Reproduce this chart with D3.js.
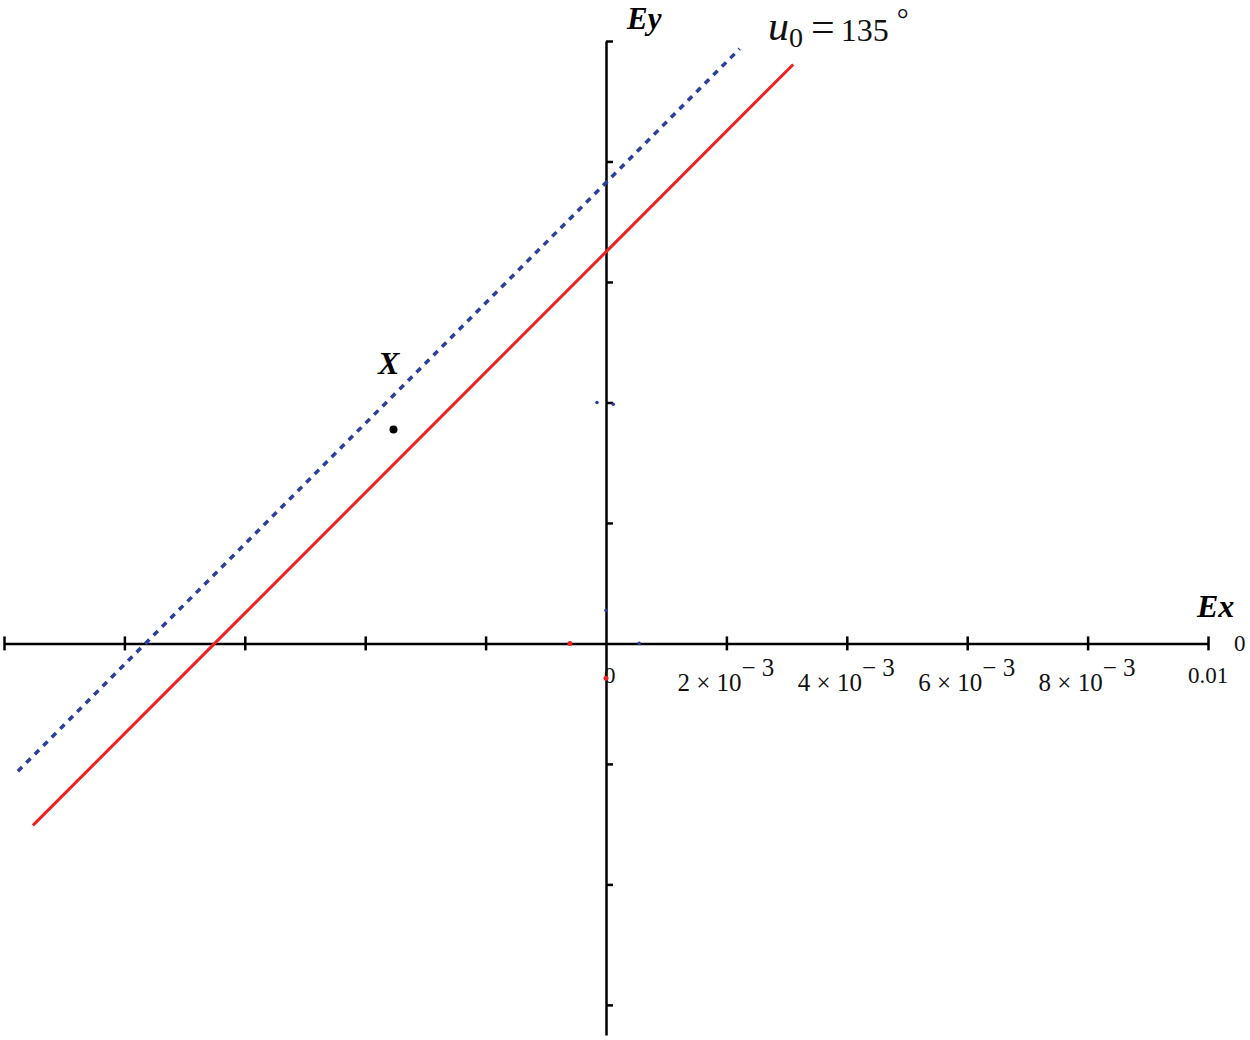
<!DOCTYPE html>
<html>
<head>
<meta charset="utf-8">
<script src="https://cdn.jsdelivr.net/npm/d3@7"></script>
<style>
  body { margin: 0; background: #fff; }
  svg { display: block; }
  text { font-family: "Liberation Serif", "DejaVu Serif", serif; }
</style>
</head>
<body>
<svg id="chart"></svg>
<script>
const width = 1250, height = 1040;

// lines (Ex, Ey)
const redLine = [[-0.00952, -0.00302], [-0.0065, 0], [0, 0.0065], [0.00311, 0.00961]];
const blueLine = [[-0.00977, -0.00212], [-0.00765, 0], [0, 0.00765], [0.00222, 0.00987]];
const blackDot = [[-0.00353, 0.00355]];
const redSpecks = [[-0.0006, 0.0], [0.0, -0.00058]];
const blueSpecks = [[-0.00015, 0.004], [0.00012, 0.00397], [0.0, 0.00055], [0.00055, 0.0]];

const xTicks = [-0.01, -0.008, -0.006, -0.004, -0.002, 0.002, 0.004, 0.006, 0.008, 0.01];
const xTickLabels = [
  { v: 0.002, m: '2' }, { v: 0.004, m: '4' }, { v: 0.006, m: '6' }, { v: 0.008, m: '8' }
];
const yTicks = [-0.006, -0.004, -0.002, 0.002, 0.004, 0.006, 0.008, 0.01];

const x = d3.scaleLinear().domain([-0.01, 0.01]).range([4, 1208]);
const y = d3.scaleLinear().domain([-0.0065, 0.01]).range([1035, 41]);

const svg = d3.select('#chart').attr('width', width).attr('height', height);

// x axis
const xAxis = svg.append('g')
  .attr('transform', `translate(0, ${y(0)})`)
  .call(d3.axisBottom(x).tickValues(xTicks).tickSizeInner(7).tickSizeOuter(0).tickFormat(''));
xAxis.select('.domain').attr('stroke', '#000').attr('stroke-width', 2.5);
xAxis.selectAll('.tick line').attr('y1', -7).attr('stroke-width', 2.5);

// y axis
const yAxis = svg.append('g')
  .attr('transform', `translate(${x(0)}, 0)`)
  .call(d3.axisLeft(y).tickValues(yTicks).tickSizeInner(7).tickSizeOuter(0).tickFormat(''));
yAxis.select('.domain').attr('stroke', '#000').attr('stroke-width', 2.5);
yAxis.selectAll('.tick line').attr('x2', 7).attr('stroke-width', 2.5);

// x tick labels
xTickLabels.forEach(t => {
  const tx = svg.append('text')
    .attr('x', x(t.v) - 49)
    .attr('y', y(0) + 48)
    .attr('font-size', 25)
    .attr('fill', '#111');
  tx.append('tspan').text(`${t.m} \u00d7 10`);
  tx.append('tspan').attr('dy', -15).attr('font-size', 25).text('\u2212 3');
});
svg.append('text').attr('x', x(0.01) - 20).attr('y', y(0) + 40)
  .attr('font-size', 23).attr('fill', '#111').text('0.01');
svg.append('text').attr('x', x(0.01) + 26).attr('y', y(0) + 8)
  .attr('font-size', 23).attr('fill', '#111').text('0');
svg.append('text').attr('x', x(0) - 2).attr('y', y(0) + 40)
  .attr('font-size', 23).attr('fill', '#111').text('0');

// data lines
const line = d3.line().x(d => x(d[0])).y(d => y(d[1]));
svg.append('path').datum(blueLine).attr('d', line)
  .attr('fill', 'none').attr('stroke', '#2b3f9c').attr('stroke-width', 3.5)
  .attr('stroke-dasharray', '6 6');
svg.append('path').datum(redLine).attr('d', line)
  .attr('fill', 'none').attr('stroke', '#ee2222').attr('stroke-width', 3);

svg.selectAll('.rs').data(redSpecks).enter().append('circle')
  .attr('cx', d => x(d[0])).attr('cy', d => y(d[1])).attr('r', 2.5).attr('fill', '#ee2222');
svg.selectAll('.bs').data(blueSpecks).enter().append('circle')
  .attr('cx', d => x(d[0])).attr('cy', d => y(d[1])).attr('r', 1.8).attr('fill', '#2b3f9c');
svg.selectAll('.bd').data(blackDot).enter().append('circle')
  .attr('cx', d => x(d[0])).attr('cy', d => y(d[1])).attr('r', 4).attr('fill', '#000');

// axis titles and annotations
svg.append('text').attr('x', 627).attr('y', 29)
  .attr('font-size', 31).attr('font-weight', 'bold').attr('font-style', 'italic').text('Ey');
svg.append('text').attr('x', 1197).attr('y', 617)
  .attr('font-size', 32).attr('font-weight', 'bold').attr('font-style', 'italic').text('Ex');
svg.append('text').attr('x', 378).attr('y', 374)
  .attr('font-size', 32).attr('font-weight', 'bold').attr('font-style', 'italic').text('X');

const u = svg.append('text').attr('x', 768).attr('y', 40).attr('fill', '#111');
u.append('tspan').attr('font-size', 42).attr('font-style', 'italic').text('u');
u.append('tspan').attr('font-size', 28).attr('dy', 7).text('0');
u.append('tspan').attr('font-size', 42).attr('dy', -6).attr('dx', 8).text('=');
u.append('tspan').attr('font-size', 32).attr('dx', 6).text('135');
u.append('tspan').attr('font-size', 30).attr('dy', -12).attr('dx', 8).text('\u00b0');
</script>
</body>
</html>
